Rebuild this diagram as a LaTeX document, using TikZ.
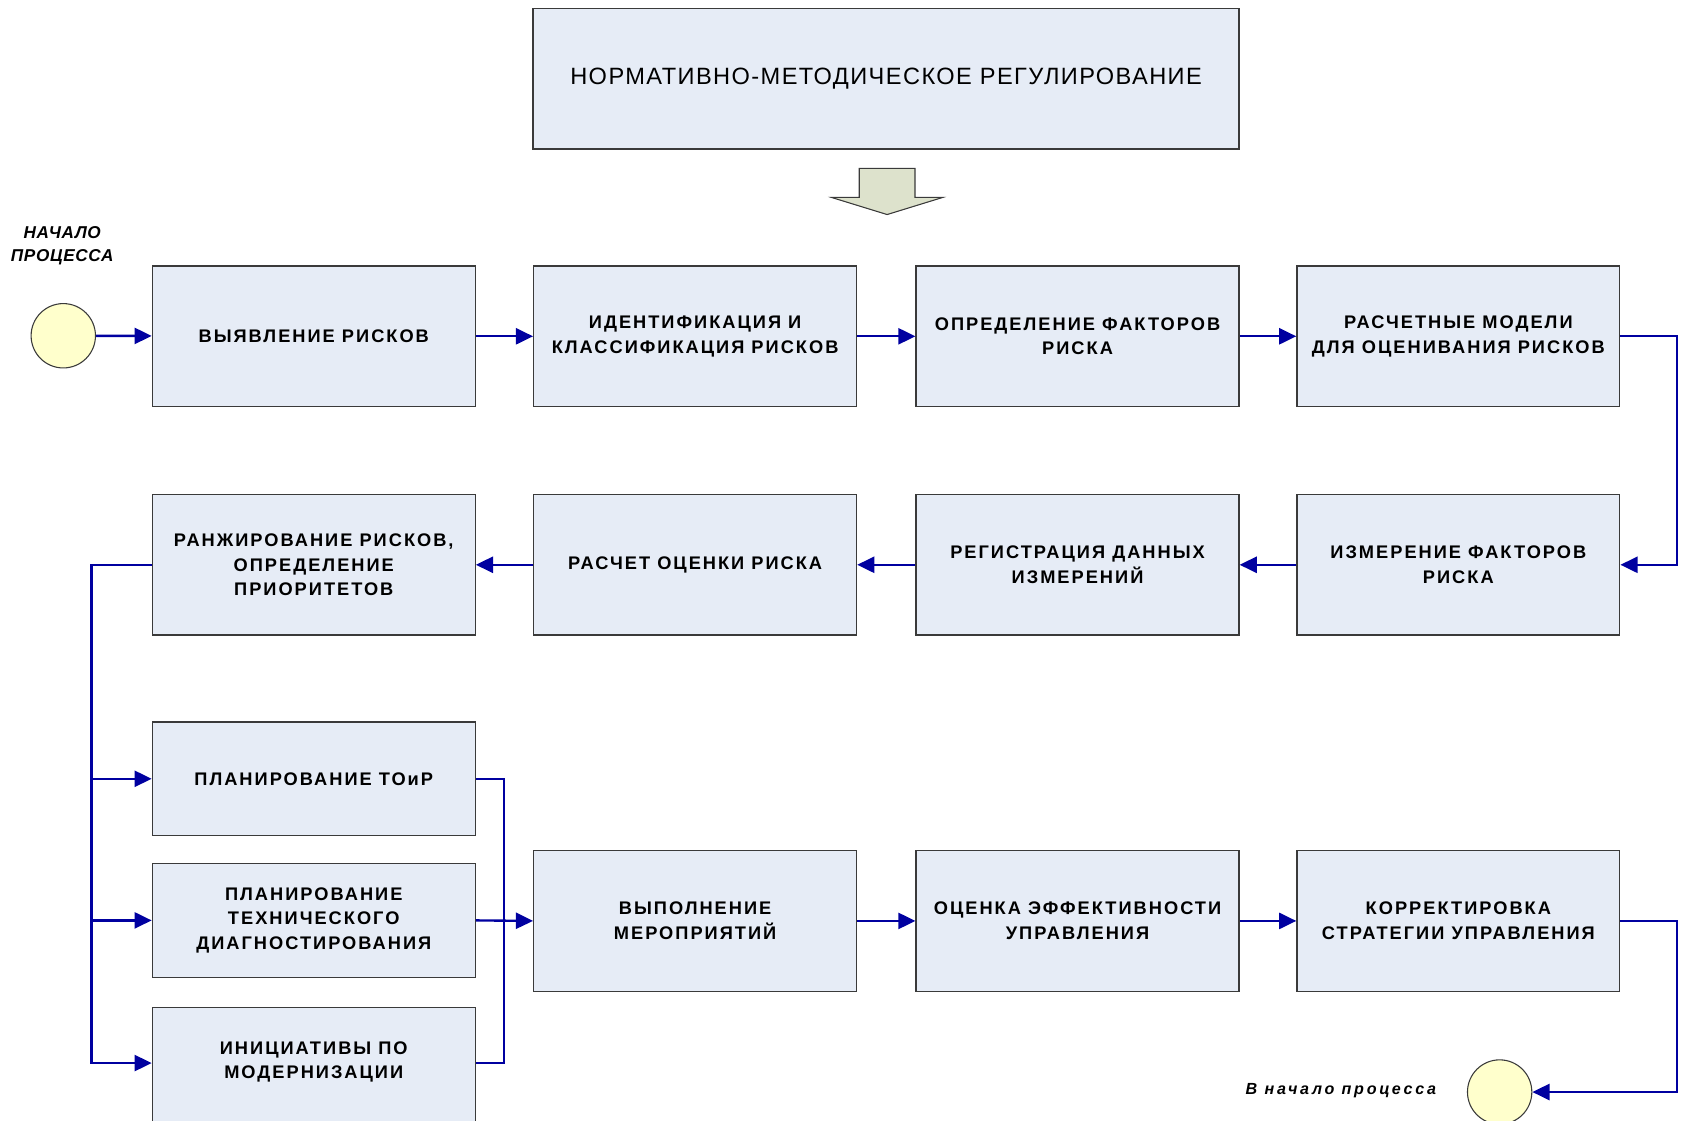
\documentclass[tikz,border=0pt]{standalone}
\usepackage{fontspec}
\setmainfont{Liberation Sans}
\newfontfamily\boxfont[LetterSpace=11]{Liberation Sans}
\newfontfamily\topfont[LetterSpace=6]{Liberation Sans}
\newfontfamily\labfont[LetterSpace=4]{Liberation Sans}
\newfontfamily\endfont[LetterSpace=17]{Liberation Sans}
\usetikzlibrary{arrows.meta}
\definecolor{boxfill}{HTML}{E6ECF6}
\definecolor{boxline}{HTML}{3A3A3A}
\definecolor{connblue}{HTML}{0000A0}
\definecolor{arrowfill}{HTML}{DDE2CC}
\definecolor{circfill}{HTML}{FFFFCC}
\tikzset{
  procbox/.style={draw=boxline, fill=boxfill, line width=1.2pt, rectangle,
    minimum width=301pt, minimum height=131pt, inner sep=0pt, align=center,
    font=\boxfont\bfseries\fontsize{17}{23}\selectfont},
  smallbox/.style={procbox, minimum height=106pt},
  circ/.style={draw=boxline, fill=circfill, line width=1pt, circle, minimum size=60pt, inner sep=0pt},
  conn/.style={draw=connblue, line width=2.2pt, -{Triangle[length=16pt,width=15pt]}},
  wire/.style={draw=connblue, line width=2.2pt},
}
\begin{document}
\begin{tikzpicture}[x=1pt,y=-1pt]
\useasboundingbox (0,0) rectangle (1568,1045);
\clip (0,0) rectangle (1568,1045);
% top box
\node[procbox, minimum width=658pt, font=\topfont\fontsize{22}{26}\selectfont] (top) at (826,73.5) {НОРМАТИВНО-МЕТОДИЧЕСКОЕ РЕГУЛИРОВАНИЕ};
% block arrow
\draw[draw=boxline, fill=arrowfill, line width=1pt]
  (801,157) -- (853,157) -- (853,184) -- (879,184) -- (827,200) -- (775,184) -- (801,184) -- cycle;
% labels
\node[font=\labfont\bfseries\itshape\fontsize{16}{22}\selectfont, align=center] (startlab) at (58,229) {НАЧАЛО\\ПРОЦЕССА};
\node[font=\endfont\bfseries\itshape\fontsize{15}{18}\selectfont] (endlab) at (1250,1017) {В начало процесса};
% circles
\node[circ] (start) at (59,313) {};
\node[circ] (finish) at (1398,1018) {};
% row 1
\node[procbox] (b1) at (292.5,313.5) {ВЫЯВЛЕНИЕ РИСКОВ};
\node[procbox] (b2) at (648,313.5) {ИДЕНТИФИКАЦИЯ И\\КЛАССИФИКАЦИЯ РИСКОВ};
\node[procbox] (b3) at (1004.5,313.5) {ОПРЕДЕЛЕНИЕ ФАКТОРОВ\\РИСКА};
\node[procbox] (b4) at (1359.5,313.5) {РАСЧЕТНЫЕ МОДЕЛИ\\ДЛЯ ОЦЕНИВАНИЯ РИСКОВ};
% row 2
\node[procbox] (m1) at (1359.5,526.5) {ИЗМЕРЕНИЕ ФАКТОРОВ\\РИСКА};
\node[procbox] (m2) at (1004.5,526.5) {РЕГИСТРАЦИЯ ДАННЫХ\\ИЗМЕРЕНИЙ};
\node[procbox] (m3) at (648,526.5) {РАСЧЕТ ОЦЕНКИ РИСКА};
\node[procbox] (m4) at (292.5,526.5) {РАНЖИРОВАНИЕ РИСКОВ,\\ОПРЕДЕЛЕНИЕ\\ПРИОРИТЕТОВ};
% left column
\node[smallbox] (p1) at (292.5,726) {ПЛАНИРОВАНИЕ ТОиР};
\node[smallbox] (p2) at (292.5,858) {ПЛАНИРОВАНИЕ\\ТЕХНИЧЕСКОГО\\ДИАГНОСТИРОВАНИЯ};
\node[smallbox, minimum height=112pt] (p3) at (292.5,995) {};
\node[font=\boxfont\bfseries\fontsize{17}{23}\selectfont, align=center] (p3t) at (292.5,990) {ИНИЦИАТИВЫ ПО\\МОДЕРНИЗАЦИИ};
% row 3
\node[procbox] (e1) at (648,858.5) {ВЫПОЛНЕНИЕ\\МЕРОПРИЯТИЙ};
\node[procbox] (e2) at (1004.5,858.5) {ОЦЕНКА ЭФФЕКТИВНОСТИ\\УПРАВЛЕНИЯ};
\node[procbox] (e3) at (1359.5,858.5) {КОРРЕКТИРОВКА\\СТРАТЕГИИ УПРАВЛЕНИЯ};
% connectors row 1
\draw[conn] (start) -- (b1);
\draw[conn] (b1) -- (b2);
\draw[conn] (b2) -- (b3);
\draw[conn] (b3) -- (b4);
\draw[conn] (b4.east) -- ++(53,0) |- (m1.east);
% row 2
\draw[conn] (m1) -- (m2);
\draw[conn] (m2) -- (m3);
\draw[conn] (m3) -- (m4);
% left bus
\draw[conn] (m4.west) -- ++(-56,0) coordinate (busl) |- (p3.west |- 0,991);
\draw[conn] (busl |- p1.west) -- (p1.west);
\draw[conn] (busl |- p2.west) -- (p2.west);
% right bus
\draw[wire] (p1.east) -- ++(26,0) coordinate (busr) |- (p3.east |- 0,991);
\draw[conn] (p2.east) -- (e1.west);
% row 3
\draw[conn] (e1) -- (e2);
\draw[conn] (e2) -- (e3);
\draw[conn] (e3.east) -- ++(53,0) |- (finish.east);
\end{tikzpicture}
\end{document}
